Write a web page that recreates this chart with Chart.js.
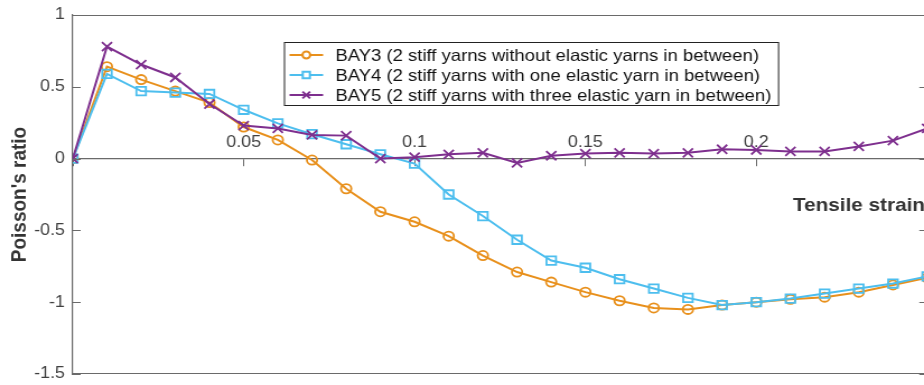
<!DOCTYPE html>
<html>
<head>
<meta charset="utf-8">
<script src="https://cdn.jsdelivr.net/npm/chart.js@4.4.1/dist/chart.umd.min.js"></script>
<style>
    html, body { margin: 0; padding: 0; background: #fff; overflow: hidden; }
    /* the reference is a horizontally stretched figure */
    #wrap { width: 836px; height: 385px; transform: scaleX(1.12); transform-origin: 0 0; }
</style>
</head>
<body>
<div id="wrap"><canvas id="chart" width="836" height="385"></canvas></div>
<script>
// Tensile strain values (x)
const strain = [0, 0.01, 0.02, 0.03, 0.04, 0.05, 0.06, 0.07, 0.08, 0.09, 0.10, 0.11, 0.12,
    0.13, 0.14, 0.15, 0.16, 0.17, 0.18, 0.19, 0.20, 0.21, 0.22, 0.23, 0.24, 0.25];

// Poisson's ratio per sample
const bay3 = [0, 0.64, 0.55, 0.47, 0.39, 0.22, 0.13, -0.01, -0.21, -0.37, -0.44, -0.54, -0.675,
    -0.79, -0.86, -0.93, -0.99, -1.04, -1.05, -1.02, -1.0, -0.98, -0.965, -0.93, -0.88, -0.83];
const bay4 = [0, 0.59, 0.47, 0.46, 0.45, 0.34, 0.245, 0.17, 0.10, 0.03, -0.035, -0.25, -0.40,
    -0.565, -0.71, -0.76, -0.84, -0.905, -0.97, -1.02, -1.0, -0.975, -0.94, -0.905, -0.87, -0.82];
const bay5 = [0, 0.78, 0.655, 0.565, 0.38, 0.23, 0.21, 0.165, 0.16, 0.0, 0.01, 0.03, 0.04,
    -0.03, 0.02, 0.035, 0.04, 0.035, 0.04, 0.065, 0.06, 0.05, 0.05, 0.085, 0.125, 0.21];

const seriesNames = ['BAY3', 'BAY4', 'BAY5'];
const seriesNotes = [
    '(2 stiff yarns without elastic yarns in between)',
    '(2 stiff yarns with one elastic yarn in between)',
    '(2 stiff yarns with three elastic yarn in between)'
];
const yTicks = [-1.5, -1, -0.5, 0, 0.5, 1];

const colors = ['#E8901C', '#4DBEEE', '#7E2F8E'];
const axisColor = '#6a6a6a';
const labelColor = '#404040';
const fontFamily = 'Arial, "Liberation Sans", Helvetica, sans-serif';

function toPoints(values) {
    return values.map((v, i) => ({ x: strain[i], y: v }));
}

// Frame, inward y ticks, x title and boxed legend
const extrasPlugin = {
    id: 'extras',
    afterDraw(chart) {
        const ctx = chart.ctx;
        const { left, right, top, bottom } = chart.chartArea;
        const yScale = chart.scales.y;

        ctx.save();
        ctx.strokeStyle = axisColor;
        ctx.lineWidth = 1.2;
        ctx.beginPath();
        ctx.moveTo(left, top + 0.5);
        ctx.lineTo(right, top + 0.5);
        ctx.moveTo(left, bottom - 0.5);
        ctx.lineTo(right, bottom - 0.5);
        ctx.moveTo(right - 0.5, top);
        ctx.lineTo(right - 0.5, bottom);
        yTicks.forEach(t => {
            const py = Math.round(yScale.getPixelForValue(t)) + 0.5;
            ctx.moveTo(left, py);
            ctx.lineTo(left + 7, py);
            ctx.moveTo(right, py);
            ctx.lineTo(right - 7, py);
        });
        ctx.stroke();

        // x axis title
        ctx.fillStyle = '#333';
        ctx.font = 'bold 18.5px ' + fontFamily;
        ctx.textAlign = 'left';
        ctx.textBaseline = 'middle';
        ctx.fillText('Tensile strain', left + 643, top + 191);

        // legend
        ctx.font = '16.5px ' + fontFamily;
        let maxW = 0;
        seriesNames.forEach((n, i) => {
            maxW = Math.max(maxW, ctx.measureText(n + ' ' + seriesNotes[i]).width);
        });
        const bx = left + 188.5, by = top + 27;
        const bw = 46 + maxW + 6, bh = 63;
        ctx.fillStyle = '#fff';
        ctx.fillRect(bx, by, bw, bh);
        ctx.strokeStyle = '#222';
        ctx.lineWidth = 1;
        ctx.strokeRect(bx + 0.5, by + 0.5, bw, bh);

        chart.data.datasets.forEach((ds, i) => {
            const cy = by + 13 + i * 20;
            ctx.strokeStyle = ds.borderColor;
            ctx.lineWidth = 2;
            ctx.beginPath();
            ctx.moveTo(bx + 5, cy);
            ctx.lineTo(bx + 35, cy);
            ctx.stroke();
            ctx.fillStyle = '#fff';
            Chart.helpers.drawPoint(ctx, {
                pointStyle: ds.pointStyle,
                radius: ds.pointRadius * 0.75,
                borderWidth: 1.5,
                rotation: 0
            }, bx + 20, cy);
            ctx.fillStyle = '#111';
            ctx.textAlign = 'left';
            ctx.textBaseline = 'middle';
            ctx.fillText(seriesNames[i] + ' ' + seriesNotes[i], bx + 46, cy + 1);
        });
        ctx.restore();
    }
};

const datasets = [bay3, bay4, bay5].map((vals, i) => ({
    label: seriesNames[i],
    data: toPoints(vals),
    borderColor: colors[i],
    backgroundColor: 'rgba(0,0,0,0)',
    borderWidth: 2,
    pointStyle: ['circle', 'rect', 'crossRot'][i],
    pointRadius: [4.6, 6, 6.4][i],
    pointBorderWidth: 1.8,
    pointBorderColor: colors[i],
    pointBackgroundColor: 'rgba(0,0,0,0)',
    tension: 0,
    order: 3 - i
}));

const chart = new Chart(document.getElementById('chart').getContext('2d'), {
    type: 'line',
    data: { datasets: datasets },
    options: {
        responsive: false,
        animation: false,
        layout: { padding: { left: 0, right: 6, top: 15, bottom: 11 } },
        plugins: {
            legend: { display: false },
            tooltip: { enabled: false }
        },
        scales: {
            x: {
                type: 'linear',
                min: 0,
                max: 0.25,
                position: { y: 0 },
                afterFit: scale => { scale.height = 0; },
                border: { color: axisColor, width: 1.2 },
                grid: { drawOnChartArea: false, drawTicks: true, tickLength: 7, color: axisColor },
                ticks: {
                    stepSize: 0.05,
                    padding: -33,
                    color: labelColor,
                    font: { family: fontFamily, size: 16 },
                    callback: v => (v === 0 || v > 0.24) ? '' : String(Math.round(v * 100) / 100)
                }
            },
            y: {
                min: -1.5,
                max: 1,
                afterFit: scale => {
                    scale.width = 65;
                    scale.paddingTop = 0;
                    scale.paddingBottom = 0;
                },
                border: { color: axisColor, width: 1.2 },
                grid: { drawOnChartArea: false, drawTicks: false },
                afterBuildTicks: scale => { scale.ticks = yTicks.map(v => ({ value: v })); },
                ticks: {
                    padding: 7,
                    color: labelColor,
                    font: { family: fontFamily, size: 16 },
                    callback: v => String(v)
                },
                title: {
                    display: true,
                    text: "Poisson's ratio",
                    color: '#333',
                    padding: { top: 6, bottom: 0 },
                    font: { family: fontFamily, size: 19, weight: 'bold' }
                }
            }
        }
    },
    plugins: [extrasPlugin]
});
</script>
</body>
</html>
